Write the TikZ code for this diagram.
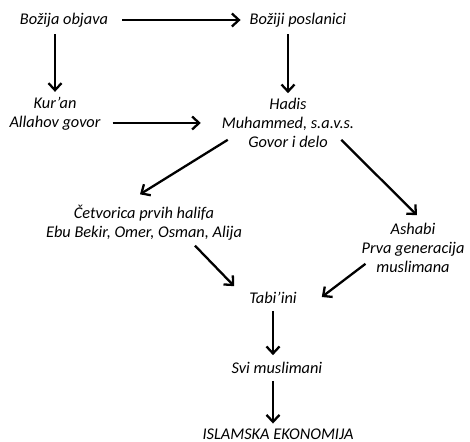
\documentclass[tikz,border=0pt]{standalone}
\usepackage{fontspec}
\setmainfont{Carlito}
\usetikzlibrary{calc,arrows.meta}
\tikzset{
  txt/.style={inner sep=1pt,align=center,font=\fontsize{9.3}{10.8}\selectfont\itshape},
  flow/.style={-{Straight Barb[length=1.4mm,width=2.6mm]},line width=1.3pt},
}

\begin{document}
\begin{tikzpicture}[x=0.02cm,y=-0.02cm]
\useasboundingbox (0,0) rectangle (470,442);
% top row
\node[txt] (objava) at (64,20) {Božija objava};
\node[txt] (poslanici) at (298,20) {Božiji poslanici};

% second row
\node[txt] (kuran) at (55,113.5) {Kur’an\\Allahov govor};
\node[txt] (hadis) at (288,123) {Hadis\\Muhammed, s.a.v.s.\\Govor i delo};

% followers
\node[txt] (halife) at (144,223) {Četvorica prvih halifa\\Ebu Bekir, Omer, Osman, Alija};
\node[txt] (ashabi) at (413,248) {Ashabi\\Prva generacija\\muslimana};
\node[txt] (tabiini) at (273,298) {Tabi’ini};
\node[txt] (svi) at (277,368) {Svi muslimani};
\node[txt] (ekon) at (278,434) {ISLAMSKA EKONOMIJA};

% arrows
\draw[flow] ($(objava.east)+(12,0)$) -- ($(poslanici.west)+(-7,0)$);
\draw[flow] ($(objava.south -| kuran)+(0,5)$) -- ($(kuran.north)+(0,-3)$);
\draw[flow] ($(poslanici.south -| hadis)+(0,5)$) -- ($(hadis.north)+(0,-3)$);
\draw[flow] ($(kuran.east |- hadis)+(10,0)$) -- ($(hadis.west)+(-19,0)$);
\draw[flow] ($(hadis.south west)+(8,-10)$) -- ($(halife.north)+(-4,-9)$);
\draw[flow] ($(hadis.south east)+(-15,-10)$) -- ($(ashabi.north)+(4,-6)$);
\draw[flow] ($(halife.south)+(51,3)$) -- ($(tabiini.north west)+(-13,-4)$);
\draw[flow] ($(ashabi.south west)+(6,-11)$) -- ($(tabiini.east)+(23,-1)$);
\draw[flow] ($(tabiini.south)+(0,5)$) -- ($(svi.north -| tabiini)+(0,-5)$);
\draw[flow] ($(svi.south -| tabiini)+(0,5)$) -- ($(ekon.north -| tabiini)+(0,-3)$);
\end{tikzpicture}
\end{document}
